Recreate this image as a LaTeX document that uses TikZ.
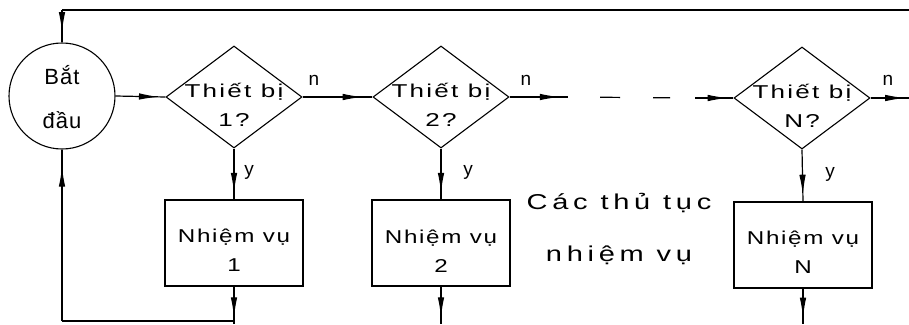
\documentclass[tikz,border=0pt]{standalone}
\usepackage{fontspec}
\setmainfont{Liberation Sans}
\newfontfamily\startfont{Liberation Sans}[LetterSpace=5]
\newfontfamily\decfont{Liberation Sans}[FakeStretch=1.4,LetterSpace=12]
\newfontfamily\taskfont{Liberation Sans}[FakeStretch=1.3,LetterSpace=9]
\newfontfamily\notefont{Liberation Sans}[FakeStretch=1.35,LetterSpace=22]
\usetikzlibrary{arrows.meta,decorations.markings,shapes.geometric}

% centred lines of text that do not change the size of their shape
\newcommand\stacked[2]{\smash{\raisebox{#1}{\makebox[0pt]{%
  \begin{tabular}{@{}c@{}}#2\end{tabular}}}}}

\begin{document}
\begin{tikzpicture}[x=1pt,y=-1pt,
  flow/.style={line width=1.2pt},
  midtip/.style={postaction={decorate},decoration={markings,
    mark=at position #1 with {\arrow{Latex[length=20pt,width=6.5pt]}}}},
  startc/.style={circle,draw,line width=1.1pt,minimum size=106pt,inner sep=0pt,
    font=\fontsize{22}{44}\selectfont\startfont},
  dec/.style={diamond,draw,line width=1.1pt,minimum width=136pt,minimum height=102pt,
    inner sep=0pt,font=\fontsize{18.6}{29}\selectfont\decfont},
  task/.style={rectangle,draw,line width=1.1pt,minimum width=138pt,minimum height=86pt,
    inner sep=0pt,font=\fontsize{18.6}{29}\selectfont\taskfont},
  lab/.style={font=\fontsize{19}{20}\selectfont,inner sep=0pt}]
\useasboundingbox (0,0) rectangle (909,324);

% start, decisions and task boxes
\node[startc] (st) at (62,96) {\stacked{-7pt}{Bắt\\đầu}};
\node[dec] (d1) at (234,97) {\stacked{-14pt}{Thiết bị\\1?}};
\node[dec] (d2) at (441,97) {\stacked{-14pt}{Thiết bị\\2?}};
\node[dec] (dn) at (802,98) {\stacked{-14pt}{Thiết bị\\N?}};
\node[task] (t1) at (234,243) {\stacked{-13pt}{Nhiệm vụ\\1}};
\node[task] (t2) at (441,243) {\stacked{-14pt}{Nhiệm vụ\\2}};
\node[task] (tn) at (803,245) {\stacked{-13pt}{Nhiệm vụ\\N}};

% free ends of the loop lines
\coordinate (topL) at (62,10);
\coordinate (topR) at (909,10);
\coordinate (botL) at (62,321);
\coordinate (botR) at (234,321);
\coordinate (gapA) at (568,97);
\coordinate (gapB) at (695,98);
\coordinate (outN) at (909,98);
\coordinate (o1) at (234,324);
\coordinate (o2) at (441,324);
\coordinate (on) at (803,324);

% loop back to the start
\draw[flow] (topR) -- (topL);
\draw[flow,midtip=0.68] (topL) -- (st.north);
\draw[flow] (botR) -- (botL);
\draw[flow,midtip=0.9] (botL) -- (st.south);

% chain of decisions
\draw[flow,midtip=0.87] (st.east) -- (d1.west);
\draw[flow,midtip=0.86] (d1.east) -- (d2.west);
\draw[flow,midtip=0.86] (d2.east) -- (gapA);
\draw[flow,dash pattern=on 0pt off 32pt on 20pt off 33pt on 17pt off 40pt] (gapA) -- (gapB);
\draw[flow,midtip=0.85] (gapB) -- (dn.west);
\draw[flow,midtip=0.9] (dn.east) -- (outN);

% yes branches into the tasks and out of them
\draw[flow,midtip=0.87] (d1.south) -- (t1.north);
\draw[flow,midtip=0.87] (d2.south) -- (t2.north);
\draw[flow,midtip=0.87] (dn.south) -- (tn.north);
\draw[flow,midtip=0.82] (t1.south) -- (o1);
\draw[flow,midtip=0.82] (t2.south) -- (o2);
\draw[flow,midtip=0.82] (tn.south) -- (on);

% branch labels
\node[lab] (n1) at (314,80) {n};
\node[lab] (n2) at (526,80) {n};
\node[lab] (nn) at (888,80) {n};
\node[lab] (y1) at (249,172) {y};
\node[lab] (y2) at (468,172) {y};
\node[lab] (yn) at (830,174) {y};

% note between the tasks
\node[align=center,font=\fontsize{21.5}{52}\selectfont\notefont] (note) at (619,229)
  {Các thủ tục\\nhiệm vụ};
\end{tikzpicture}
\end{document}
